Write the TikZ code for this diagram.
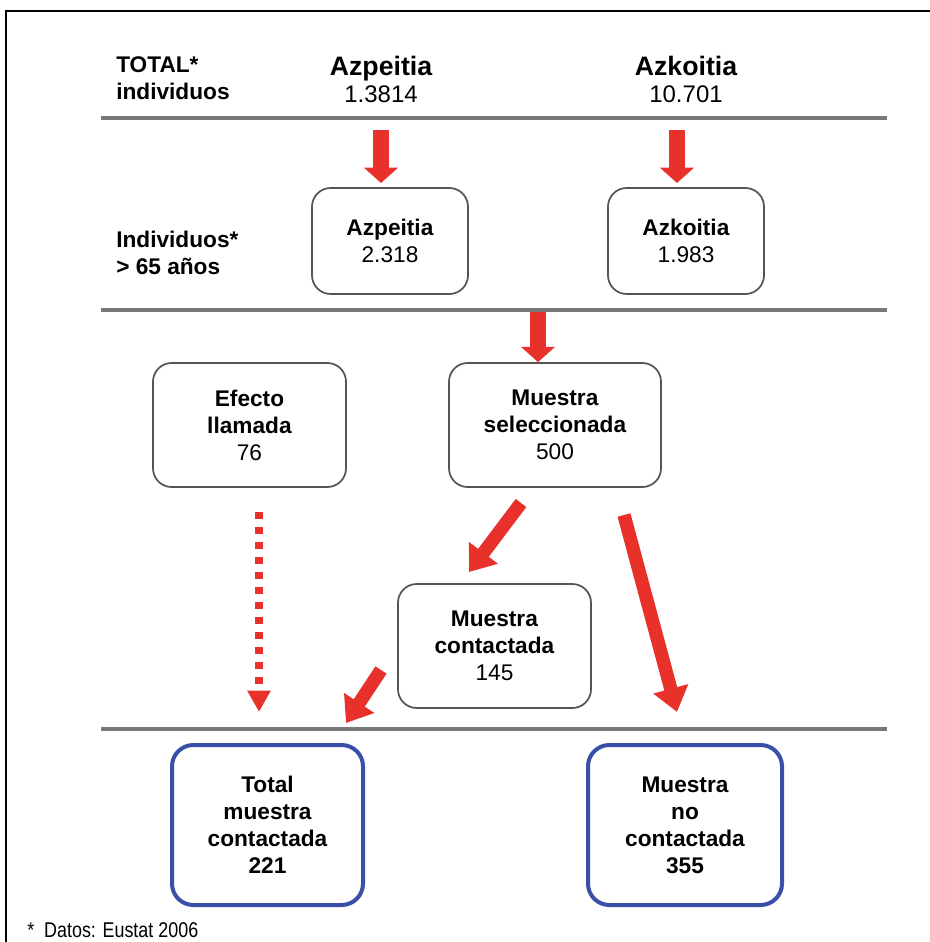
\documentclass[tikz,border=0pt]{standalone}
\usepackage{fontspec}
\setmainfont{Liberation Sans}
\usetikzlibrary{arrows.meta}
\definecolor{arrred}{RGB}{232,49,43}
\definecolor{boxblue}{RGB}{58,80,168}
\definecolor{sepgray}{RGB}{120,120,120}
\definecolor{boxgray}{RGB}{85,85,85}
\begin{document}
\begin{tikzpicture}[x=0.75pt,y=-0.75pt,
  sepline/.style={draw=sepgray,line width=2.3pt},
  graybox/.style={draw=boxgray,line width=1.3pt,rounded corners=14pt,inner sep=0pt,align=center,font=\fontsize{17}{20.25}\selectfont},
  bluebox/.style={draw=boxblue,line width=3pt,rounded corners=16pt,inner sep=0pt,align=center,font=\fontsize{17}{20.25}\selectfont\bfseries},
  bigarrow/.style={draw=arrred,line width=12pt,-{Triangle[width=25pt,length=11.5pt]},arrred},
  diagarrow/.style={draw=arrred,line width=10pt,-{Triangle[width=26pt,length=18pt]},arrred},
  dotarrow/.style={draw=arrred,line width=6pt,dash pattern=on 5.25pt off 6pt,-{Triangle[width=16.5pt,length=16pt]},arrred},
  lefttxt/.style={align=left,font=\fontsize{17}{20.25}\selectfont\bfseries,inner sep=0pt},
  headname/.style={font=\fontsize{20}{24}\selectfont\bfseries,inner sep=0pt},
  headnum/.style={font=\fontsize{18}{22}\selectfont,inner sep=0pt}
]
\useasboundingbox (0,0) rectangle (930,942);
% frame
\draw[line width=1.1pt] (6,942) -- (6,11) -- (930,11);
% separator lines
\draw[sepline] (101,118) -- (887,118);
\draw[sepline] (101,310) -- (887,310);
\draw[sepline] (101,729) -- (887,729);
% header
\node[lefttxt,anchor=west] (tot) at (116,78) {TOTAL*\\individuos};
\node[headname,anchor=base] (hA) at (381,76) {Azpeitia};
\node[headnum,anchor=base] (hAn) at (381,103) {1.3814};
\node[headname,anchor=base] (hB) at (686,76) {Azkoitia};
\node[headnum,anchor=base] (hBn) at (686,103) {10.701};
% row 2
\node[lefttxt,anchor=west] (ind) at (116,253) {Individuos*\\> 65 años};
\node[graybox,minimum width=117pt,minimum height=79.5pt] (bA) at (390,241) {\textbf{Azpeitia}\\2.318};
\node[graybox,minimum width=117pt,minimum height=79.5pt] (bB) at (686,241) {\textbf{Azkoitia}\\1.983};
% row 3
\node[graybox,minimum width=144.75pt,minimum height=93pt] (eff) at (249.5,425) {\textbf{Efecto}\\\textbf{llamada}\\76};
\node[graybox,minimum width=159pt,minimum height=93pt] (sel) at (555,425) {\textbf{Muestra}\\\textbf{seleccionada}\\500};
\node[graybox,minimum width=144.75pt,minimum height=93pt] (con) at (494.5,646) {\textbf{Muestra}\\\textbf{contactada}\\145};
% bottom
\node[bluebox,minimum width=143.25pt,minimum height=120pt] (totc) at (267.5,825) {Total\\muestra\\contactada\\221};
\node[bluebox,minimum width=145.5pt,minimum height=120pt] (noc) at (685,825) {Muestra\\no\\contactada\\355};
% footnote
\node[anchor=west,inner sep=0pt,font=\fontsize{16}{18}\selectfont] (foot) at (27,930) {\scalebox{0.84}[1]{*\ \ Datos: Eustat 2006}};
% arrow coordinates
\coordinate (a1s) at (381,130);
\coordinate (a1e) at (381,183);
\coordinate (a2s) at (677,130);
\coordinate (a2e) at (677,183);
\coordinate (a3s) at (538,312);
\coordinate (d1s) at (521,503);
\coordinate (d1e) at (469,572);
\coordinate (d2s) at (624,515);
\coordinate (d2e) at (677,712);
\coordinate (d3s) at (381,670);
\coordinate (d3e) at (346,723);
\coordinate (dts) at (259,512);
\coordinate (dte) at (259,712);
% arrows
\draw[bigarrow] (a1s) -- (a1e);
\draw[bigarrow] (a2s) -- (a2e);
\draw[bigarrow] (a3s) -- (a3s |- sel.north);
\draw[diagarrow] (d1s) -- (d1e);
\draw[diagarrow] (d2s) -- (d2e);
\draw[diagarrow] (d3s) -- (d3e);
\draw[dotarrow] (dts) -- (dte);
\end{tikzpicture}
\end{document}
